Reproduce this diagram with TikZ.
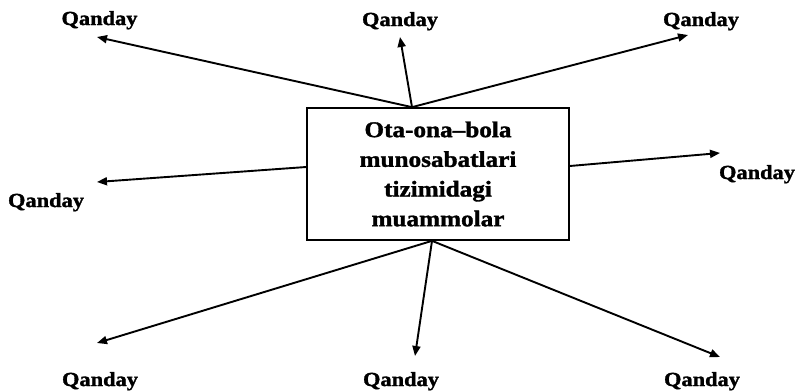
\documentclass[tikz,border=0pt]{standalone}
\usepackage{fontspec}
\setmainfont{Liberation Serif}
\newfontfamily\qfont[Ligatures=TeX,FakeStretch=1.12,BoldFeatures={FakeBold=1.5}]{Liberation Serif}
\usetikzlibrary{arrows.meta,calc}
\begin{document}
\begin{tikzpicture}[x=1pt,y=-1pt,
  lbl/.style={font=\qfont\bfseries\fontsize{20}{24}\selectfont, inner sep=0pt, anchor=base},
  arr/.style={line width=1.9pt, -{Triangle[length=10pt,width=8pt]}},
  boxst/.style={draw, line width=1.7pt, minimum width=262pt, minimum height=132pt, inner sep=0pt, align=center,
    font=\qfont\bfseries\fontsize{22.5}{29.7}\selectfont}]
\useasboundingbox[fill=white] (0,0) rectangle (800,391);
\node[boxst] (box) at (438,174) {Ota-ona\textendash bola\\munosabatlari\\tizimidagi\\muammolar};
\node[lbl] (q1) at (99.5,25) {Qanday};
\node[lbl] (q2) at (400,26) {Qanday};
\node[lbl] (q3) at (701,26) {Qanday};
\node[lbl] (q4) at (46,207) {Qanday};
\node[lbl] (q5) at (757,179) {Qanday};
\node[lbl] (q6) at (100,386) {Qanday};
\node[lbl] (q7) at (401,386) {Qanday};
\node[lbl] (q8) at (702,386) {Qanday};
\coordinate (top) at ($(box.north)+(-26,0)$);
\coordinate (bot) at ($(box.south)+(-6,0)$);
\coordinate (lft) at ($(box.west)+(0,-7)$);
\coordinate (rgt) at ($(box.east)+(0,-8)$);
\coordinate (t1) at (97,37);
\coordinate (t2) at (400,37);
\coordinate (t3) at (688,35);
\coordinate (t4) at (97,182);
\coordinate (t5) at (720,153);
\coordinate (t6) at (97,343);
\coordinate (t7) at (415,356);
\coordinate (t8) at (720,357);
\draw[arr] (top) -- (t1);
\draw[arr] (top) -- (t2);
\draw[arr] (top) -- (t3);
\draw[arr] (lft) -- (t4);
\draw[arr] (rgt) -- (t5);
\draw[arr] (bot) -- (t6);
\draw[arr] (bot) -- (t7);
\draw[arr] (bot) -- (t8);
\end{tikzpicture}
\end{document}
